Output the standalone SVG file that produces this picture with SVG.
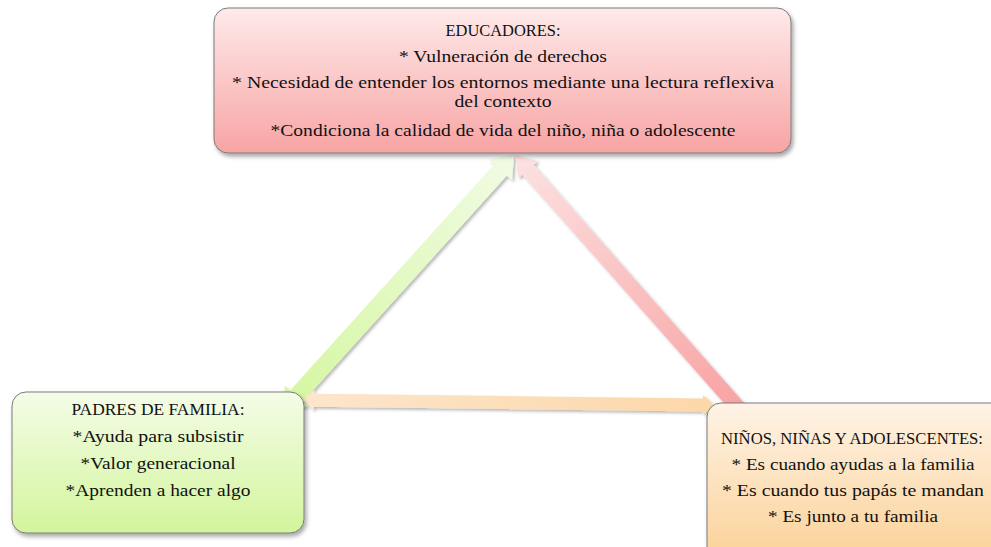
<svg xmlns="http://www.w3.org/2000/svg" width="991" height="547" viewBox="0 0 991 547">
<style>
.box{stroke:#7a7a7a;stroke-width:1;filter:url(#sh)}
text{font-family:"Liberation Serif","DejaVu Serif",serif;font-size:17.5px;fill:#111;text-anchor:middle}
</style>
<defs>
<filter id="sh" x="-10%" y="-10%" width="130%" height="130%"><feDropShadow dx="2" dy="3" stdDeviation="2" flood-color="#000" flood-opacity="0.35"/></filter>
<filter id="ash" x="-20%" y="-20%" width="140%" height="140%"><feDropShadow dx="2" dy="2" stdDeviation="1.5" flood-color="#000" flood-opacity="0.28"/></filter>
<linearGradient id="gr" x1="0" y1="0" x2="0" y2="1"><stop offset="0" stop-color="#feeaea"/><stop offset="1" stop-color="#f8a4a4"/></linearGradient>
<linearGradient id="gg" x1="0" y1="0" x2="0" y2="1"><stop offset="0" stop-color="#f4fce8"/><stop offset="1" stop-color="#d3f59c"/></linearGradient>
<linearGradient id="go" x1="0" y1="0" x2="0" y2="1"><stop offset="0" stop-color="#fef3e6"/><stop offset="1" stop-color="#fbd196"/></linearGradient>
<linearGradient id="agreen" x1="0" y1="0" x2="345" y2="0" gradientUnits="userSpaceOnUse"><stop offset="0" stop-color="#d5f7a0"/><stop offset="1" stop-color="#f1fbe4"/></linearGradient>
<linearGradient id="ared" x1="0" y1="0" x2="355" y2="0" gradientUnits="userSpaceOnUse"><stop offset="0" stop-color="#f8a0a0"/><stop offset="1" stop-color="#fde2e2"/></linearGradient>
<linearGradient id="aorange" x1="0" y1="0" x2="411" y2="0" gradientUnits="userSpaceOnUse"><stop offset="0" stop-color="#fde6cc"/><stop offset="1" stop-color="#fcd7a8"/></linearGradient>
</defs>
<g id="connectors" filter="url(#ash)">
<polygon id="red" transform="translate(749,420) rotate(-131.44)" points="0,-7.5 334,-7.5 334,-13 353,0 334,13 334,7.5 0,7.5" fill="url(#ared)"/>
<polygon id="green" transform="translate(283,411) rotate(-47.94)" points="0,0 20,-15.5 20,-8.5 324.8,-8.5 324.8,-15.5 344.8,0 324.8,15.5 324.8,8.5 20,8.5 20,15.5" fill="url(#agreen)"/>
<polygon id="orange" transform="translate(303,400) rotate(0.7)" points="0,0 11,-10 11,-6.5 400,-6.5 400,-10 411,0 400,10 400,6.5 11,6.5 11,10" fill="url(#aorange)"/>
</g>
<g id="educadores">
<rect class="box" x="214" y="8" width="577" height="145" rx="14" fill="url(#gr)"/>
<text x="503" y="36" textLength="115" lengthAdjust="spacingAndGlyphs">EDUCADORES:</text>
<text x="503" y="62" textLength="208" lengthAdjust="spacingAndGlyphs">* Vulneración de derechos</text>
<text x="503" y="88" textLength="542" lengthAdjust="spacingAndGlyphs">* Necesidad de entender los entornos mediante una lectura reflexiva</text>
<text x="503" y="107" textLength="97" lengthAdjust="spacingAndGlyphs">del contexto</text>
<text x="503" y="136" textLength="465" lengthAdjust="spacingAndGlyphs">*Condiciona la calidad de vida del niño, niña o adolescente</text>
</g>
<g id="padres">
<rect class="box" x="12" y="392" width="292" height="141" rx="14" fill="url(#gg)"/>
<text x="158" y="415" textLength="173" lengthAdjust="spacingAndGlyphs">PADRES DE FAMILIA:</text>
<text x="158" y="442" textLength="171" lengthAdjust="spacingAndGlyphs">*Ayuda para subsistir</text>
<text x="158" y="469" textLength="155" lengthAdjust="spacingAndGlyphs">*Valor generacional</text>
<text x="158" y="496" textLength="185" lengthAdjust="spacingAndGlyphs">*Aprenden a hacer algo</text>
</g>
<g id="ninos">
<rect class="box" x="707" y="403" width="300" height="160" rx="14" fill="url(#go)"/>
<text x="852" y="444" textLength="262" lengthAdjust="spacingAndGlyphs">NIÑOS, NIÑAS Y ADOLESCENTES:</text>
<text x="853" y="470" textLength="243" lengthAdjust="spacingAndGlyphs">* Es cuando ayudas a la familia</text>
<text x="853" y="496" textLength="262" lengthAdjust="spacingAndGlyphs">* Es cuando tus papás te mandan</text>
<text x="853" y="522" textLength="170" lengthAdjust="spacingAndGlyphs">* Es junto a tu familia</text>
</g>
</svg>
